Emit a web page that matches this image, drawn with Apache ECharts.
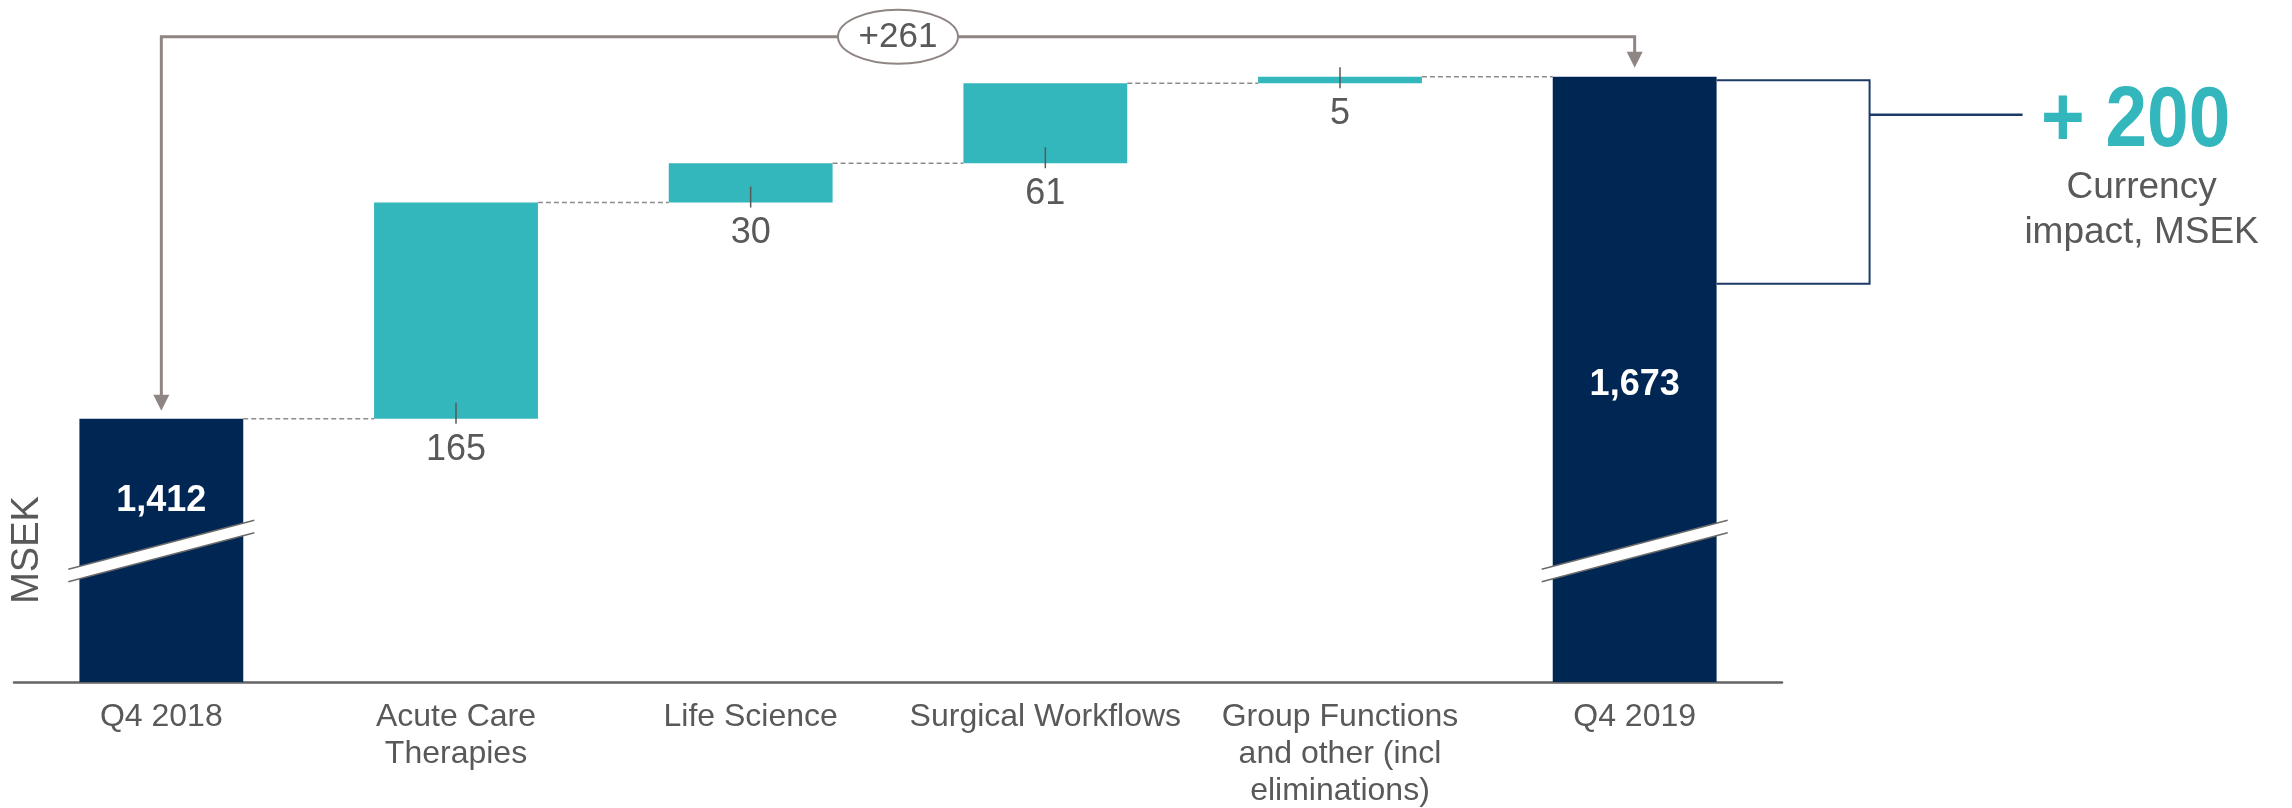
<!DOCTYPE html>
<html>
<head>
<meta charset="utf-8">
<title>Net sales bridge Q4 2018 - Q4 2019</title>
<script src="https://cdn.jsdelivr.net/npm/echarts@6/dist/echarts.min.js"></script>
<style>
  html, body { margin: 0; padding: 0; background: #ffffff; }
  #chart { width: 2292px; height: 808px; }
</style>
</head>
<body>
<div id="chart"></div>
<script>
const categories = ['Q4 2018', 'Acute Care\nTherapies', 'Life Science', 'Surgical Workflows',
  'Group Functions\nand other (incl\neliminations)', 'Q4 2019'];
const totals = [1412, null, null, null, null, 1673];
const changes = [null, 165, 30, 61, 5, null];
const totalChange = 261;
const currencyImpact = 200;

const NAVY = '#002754';
const TEAL = '#33b7bc';
const GREY = '#595959';
const BROWN = '#8f8683';
const FONT = '"Liberation Sans", Arial, sans-serif';
const BAR = 0.556; // bar width as share of a category band

// invisible base under each change bar
let running = totals[0];
const bases = categories.map((c, i) => {
  if (changes[i] == null) return '-';
  const b = running;
  running += changes[i];
  return b;
});

// level of the dashed connector leaving each bar
const levels = [];
running = totals[0];
for (let i = 0; i < categories.length - 1; i++) {
  if (changes[i] != null) running += changes[i];
  levels.push([i, running]);
}

const fmt = v => Number(v).toLocaleString('en-US');
const last = categories.length - 1;

const option = {
  animation: false,
  backgroundColor: '#ffffff',
  grid: { left: 14, right: 510, top: 27, bottom: 126, outerBoundsMode: 'none' },
  xAxis: {
    type: 'category',
    data: categories,
    axisLine: { lineStyle: { color: '#646464', width: 2.5 } },
    axisTick: { show: false },
    axisLabel: { interval: 0, margin: 17, color: GREY, fontSize: 32, lineHeight: 37, fontFamily: FONT }
  },
  yAxis: { type: 'value', min: 1211, max: 1711, show: false },
  graphic: [{
    type: 'text', x: 28, y: 550, rotation: Math.PI / 2,
    style: { text: 'MSEK', font: '38px ' + FONT, fill: GREY, textAlign: 'center', textVerticalAlign: 'middle' }
  }],
  series: [
    {
      name: 'base', type: 'bar', stack: 'w', barWidth: '55.6%', silent: true,
      itemStyle: { color: 'transparent' },
      data: bases
    },
    {
      name: 'change', type: 'bar', stack: 'w', barWidth: '55.6%',
      itemStyle: { color: TEAL },
      label: { show: true, position: 'bottom', distance: 13, color: GREY, fontSize: 36, fontFamily: FONT },
      data: changes.map(v => v == null ? '-' : v)
    },
    {
      name: 'total', type: 'bar', barWidth: '55.6%', barGap: '-100%',
      itemStyle: { color: NAVY },
      label: {
        show: true, color: '#ffffff', fontSize: 36, fontWeight: 'bold', fontFamily: FONT,
        align: 'center', verticalAlign: 'middle',
        formatter: p => fmt(p.value)
      },
      data: totals.map((v, i) => {
        if (v == null) return '-';
        // label sits at different heights on the two bars
        return { value: v, label: { position: ['50%', i === 0 ? 82 : 308] } };
      })
    },
    {
      // dashed connectors between bars
      name: 'connectors', type: 'custom', silent: true, z: 3,
      data: levels,
      renderItem: (params, api) => {
        const p = api.coord([api.value(0), api.value(1)]);
        const w = api.size([1, 0])[0];
        return {
          type: 'line',
          shape: { x1: p[0] + w * BAR / 2, y1: p[1], x2: p[0] + w * (1 - BAR / 2), y2: p[1] },
          style: { stroke: '#8c8c8c', lineWidth: 1.5, lineDash: [5, 3] }
        };
      }
    },
    {
      // little tick across the bottom edge of each change bar
      name: 'ticks', type: 'custom', silent: true, z: 3,
      data: bases.map((b, i) => [i, b]).filter(d => d[1] !== '-'),
      renderItem: (params, api) => {
        const p = api.coord([api.value(0), api.value(1)]);
        return {
          type: 'line',
          shape: { x1: p[0], y1: p[1] - 16, x2: p[0], y2: p[1] + 5 },
          style: { stroke: GREY, lineWidth: 1.5 }
        };
      }
    },
    {
      // axis break slashes on the total bars
      name: 'breaks', type: 'custom', silent: true, z: 4,
      data: totals.map((v, i) => [i, 1311, v]).filter(d => d[2] != null),
      renderItem: (params, api) => {
        const c = api.coord([api.value(0), api.value(1)]);
        const xl = c[0] - 93, xr = c[0] + 93;
        const yl = c[1] + 24.5, yr = c[1] - 24.5, h = 6.25;
        return {
          type: 'group',
          children: [
            { type: 'polygon', shape: { points: [[xl, yl - h], [xr, yr - h], [xr, yr + h], [xl, yl + h]] },
              style: { fill: '#ffffff' } },
            { type: 'line', shape: { x1: xl, y1: yl - h, x2: xr, y2: yr - h }, style: { stroke: '#6b6b6b', lineWidth: 1.5 } },
            { type: 'line', shape: { x1: xl, y1: yl + h, x2: xr, y2: yr + h }, style: { stroke: '#6b6b6b', lineWidth: 1.5 } }
          ]
        };
      }
    },
    {
      // bracket with arrows from Q4 2018 to Q4 2019
      name: 'bracket', type: 'custom', silent: true, z: 5,
      data: [[0, totals[0], last, totals[last], totalChange]],
      renderItem: (params, api) => {
        const a = api.coord([api.value(0), api.value(1)]);
        const b = api.coord([api.value(2), api.value(3)]);
        const top = Math.min(a[1], b[1]) - 40;
        const mid = (a[0] + b[0]) / 2;
        const head = (x, y) => ({
          type: 'polygon', shape: { points: [[x - 8, y - 24], [x + 8, y - 24], [x, y - 8]] },
          style: { fill: BROWN }
        });
        return {
          type: 'group',
          children: [
            { type: 'polyline', shape: { points: [[a[0], a[1] - 22], [a[0], top], [b[0], top], [b[0], b[1] - 22]] },
              style: { stroke: BROWN, lineWidth: 3, fill: null } },
            head(a[0], a[1]),
            head(b[0], b[1] - 1),
            { type: 'ellipse', shape: { cx: mid, cy: top, rx: 60, ry: 27 },
              style: { fill: '#ffffff', stroke: BROWN, lineWidth: 2 } },
            { type: 'text', x: mid, y: top + 1,
              style: { text: '+' + api.value(4), font: '35px ' + FONT, fill: GREY, textAlign: 'center', textVerticalAlign: 'middle' } }
          ]
        };
      }
    },
    {
      // currency impact bracket on the right of Q4 2019
      name: 'currency', type: 'custom', silent: true, z: 5,
      data: [[last, totals[last], currencyImpact]],
      renderItem: (params, api) => {
        const p = api.coord([api.value(0), api.value(1)]);
        const w = api.size([1, 0])[0];
        const right = p[0] + w * BAR / 2;
        const top = p[1] + 3.5, bottom = p[1] + 207;
        const vx = right + 153, my = p[1] + 38;
        return {
          type: 'group',
          children: [
            { type: 'polyline', shape: { points: [[right, top], [vx, top], [vx, bottom], [right, bottom]] },
              style: { stroke: '#1b3a66', lineWidth: 2, fill: null } },
            { type: 'line', shape: { x1: vx, y1: my, x2: vx + 153, y2: my }, style: { stroke: '#1b3a66', lineWidth: 2.5 } },
            { type: 'text', x: vx + 266, y: my + 8, scaleX: 0.87,
              style: { text: '+ ' + api.value(2), font: 'bold 86px ' + FONT, fill: TEAL, textAlign: 'center', textVerticalAlign: 'middle' } },
            { type: 'text', x: vx + 272, y: p[1] + 89,
              style: { text: 'Currency\nimpact, MSEK', font: '37px ' + FONT, lineHeight: 45, fill: GREY, textAlign: 'center', textVerticalAlign: 'top' } }
          ]
        };
      }
    }
  ]
};

const chart = echarts.init(document.getElementById('chart'));
chart.setOption(option);
</script>
</body>
</html>
